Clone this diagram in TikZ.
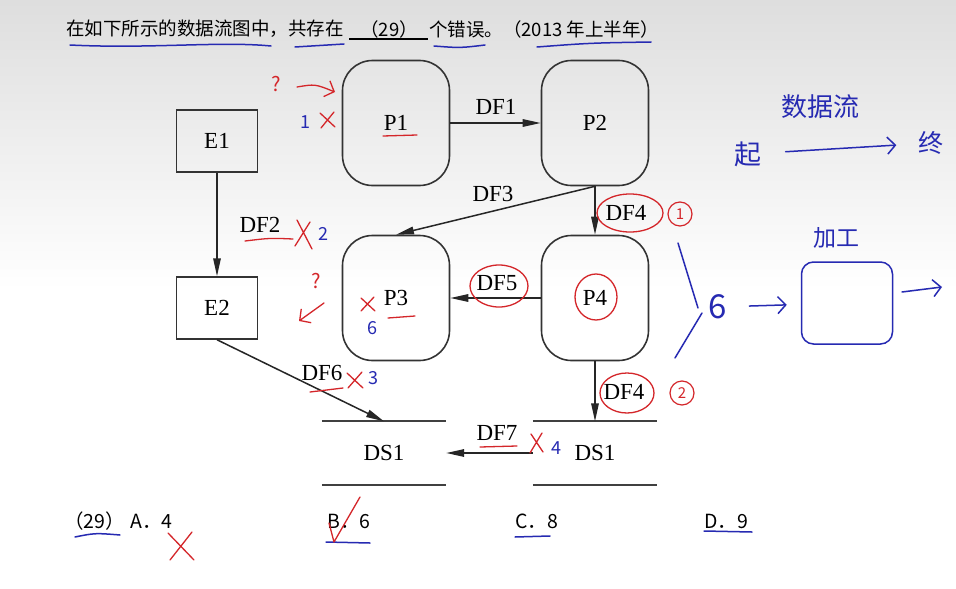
\documentclass[tikz,border=0pt]{standalone}
\usepackage{fontspec}
\setmainfont{Liberation Serif}
\newfontfamily\cjk{Noto Sans CJK SC}
\usetikzlibrary{positioning,arrows.meta,calc,shapes.geometric}
\definecolor{penred}{RGB}{212,38,42}
\definecolor{penblue}{RGB}{38,42,178}
\tikzset{
  proc/.style={draw=black!80,rounded corners=30pt,line width=1.6pt,minimum width=107pt,
    minimum height=125pt,inner sep=0pt,font=\fontsize{23}{27}\selectfont},
  ent/.style={draw=black!80,line width=1.5pt,minimum width=81pt,minimum height=62pt,
    inner sep=0pt,font=\fontsize{23}{27}\selectfont},
  store/.style={minimum width=124pt,minimum height=63pt,inner sep=0pt,
    font=\fontsize{23}{27}\selectfont},
  stline/.style={line width=1.8pt,black!75},
  flow/.style={-{Triangle[length=18pt,width=7.5pt]},line width=1.5pt,black!85},
  flab/.style={font=\fontsize{23}{27}\selectfont,inner sep=0pt},
  qtext/.style={font=\cjk\fontsize{18.5}{22}\selectfont,inner sep=0pt},
  opt/.style={font=\cjk\fontsize{19.5}{23}\selectfont,inner sep=0pt,anchor=west},
  % ---- hand-written marks of the teacher ----
  redpen/.style={penred,line width=1.3pt,line cap=round,line join=round},
  bluepen/.style={penblue,line width=1.5pt,line cap=round,line join=round},
  penhead/.style={-{Straight Barb[length=8pt,width=17pt]}},
  rednum/.style={circle,draw=penred,line width=1.2pt,text=penred,inner sep=0pt,
    minimum size=24pt,font=\cjk\fontsize{15}{18}\selectfont},
  redtxt/.style={text=penred,inner sep=0pt,font=\cjk\fontsize{20}{22}\selectfont},
  bluetxt/.style={text=penblue,inner sep=0pt,font=\cjk\fontsize{18}{22}\selectfont},
}
\begin{document}
\begin{tikzpicture}[x=1pt,y=-1pt]
  \useasboundingbox (0,0) rectangle (956,589);
  \fill[white] (0,0) rectangle (956,589);
  \shade[top color=black!13,bottom color=white] (0,0) rectangle (956,290);

  % question line
  \node[qtext,anchor=west] (q1) at (66,29) {在如下所示的数据流图中，共存在};
  \node[qtext] (q2) at (389,29) {（29）};
  \node[qtext,anchor=west] (q3) at (429,29) {个错误。（2013 年上半年）};
  \draw[line width=1.1pt] (349,39) -- (428,39);

  % data flow diagram
  \node[ent] (e1) at (217,141) {E1};
  \node[ent] (e2) at (217,308) {E2};
  \node[proc] (p1) at (396,123) {P1};
  \node[proc] (p2) at (595,123) {P2};
  \node[proc] (p3) at (396,298) {P3};
  \node[proc] (p4) at (595,298) {P4};
  \node[store] (dsa) at (384,453) {DS1};
  \node[store] (dsb) at (595,453) {DS1};
  \foreach \s in {dsa,dsb}{
    \draw[stline] (\s.north west) -- (\s.north east);
    \draw[stline] (\s.south west) -- (\s.south east);
  }

  \draw[flow] (p1) -- (p2);
  \draw[flow] (p2.south) -- (p3.north);
  \draw[flow] (p2.south) -- (p4.north);
  \draw[flow] (e1) -- (e2);
  \draw[flow] (p4) -- (p3);
  \draw[flow] (e2.south) -- (dsa.north);
  \draw[flow] (p4.south) -- (dsb.north);
  \draw[flow] (dsb.west) -- (dsa.east);

  \node[flab] (l1) at (496,107) {DF1};
  \node[flab] (l3) at (493,194) {DF3};
  \node[flab] (l4) at (626,213) {DF4};
  \node[flab] (l2) at (260,225) {DF2};
  \node[flab] (l5) at (497,283) {DF5};
  \node[flab] (l6) at (322,373) {DF6};
  \node[flab] (l4b) at (624,392) {DF4};
  \node[flab] (l7) at (497,433) {DF7};

  % answers
  \node[opt] (o0) at (64,521) {（29）};
  \node[opt] (oa) at (130,521) {A．4};
  \node[opt] (ob) at (327,521) {B．6};
  \node[opt] (oc) at (515,521) {C．8};
  \node[opt] (od) at (704,521) {D．9};

  % blue underlines
  \draw[bluepen] (70,45) .. controls (150,49) and (220,41) .. (271,46);
  \draw[bluepen] (295,47) -- (344,44);
  \draw[bluepen] (434,46) .. controls (460,48) .. (485,45);
  \draw[bluepen] (537,47) .. controls (590,43) .. (651,42);
  \draw[bluepen] (75,537) .. controls (95,533) .. (120,535);
  \draw[bluepen] (326,542) -- (370,543);
  \draw[bluepen] (515,537) -- (550,536);
  \draw[bluepen] (704,531) -- (752,532);

  % red marks on the diagram
  \node[redtxt] (qa) at (276,84) {?};
  \draw[redpen,penhead] (297,87) .. controls (315,84) .. (335,92);
  \node[bluetxt] (n1) at (305,122) {1};
  \draw[redpen] (320,113) -- (335,127) (334,112) -- (321,128);
  \draw[redpen] (383,136) -- (417,135);
  \draw[redpen] (630,213) ellipse [x radius=33, y radius=19];
  \node[rednum] (c1) at (680,214) {1};
  \draw[redpen] (245,241) .. controls (270,238) .. (293,239);
  \draw[redpen] (297,220) -- (312,249) (310,222) -- (295,246);
  \node[bluetxt] (n2) at (323,234) {2};
  \node[redtxt] (qb) at (316,281) {?};
  \draw[redpen,penhead] (324,303) -- (299,321);
  \draw[redpen] (361,298) -- (375,311) (374,297) -- (361,311);
  \node[bluetxt] (n6) at (372,328) {6};
  \draw[redpen] (388,318) -- (415,316);
  \draw[redpen] (499,286) ellipse [x radius=29, y radius=21];
  \draw[redpen] (596,297) ellipse [x radius=21, y radius=23];
  \draw[redpen] (310,392) -- (343,388);
  \draw[redpen] (347,373) -- (363,388) (362,372) -- (348,388);
  \node[bluetxt] (n3) at (373,378) {3};
  \draw[redpen] (627,393) ellipse [x radius=27, y radius=20];
  \node[rednum] (c2) at (682,393) {2};
  \draw[redpen] (480,447) -- (517,446);
  \draw[redpen] (531,434) -- (543,452) (542,433) -- (530,453);
  \node[bluetxt] (n4) at (556,448) {4};

  % red marks on the answers
  \draw[redpen] (168,533) -- (194,560) (192,532) -- (170,560);
  \draw[redpen] (329,523) -- (334,542) -- (360,497);

  % notes on the right
  \node[text=penblue,inner sep=0pt,font=\cjk\fontsize{26}{30}\selectfont] (sjl) at (820,107) {数据流};
  \node[text=penblue,inner sep=0pt,font=\cjk\fontsize{27}{30}\selectfont] (qi) at (748,154) {起};
  \node[text=penblue,inner sep=0pt,font=\cjk\fontsize{25}{30}\selectfont] (zh) at (931,143) {终};
  \draw[bluepen,penhead,shorten <=24pt,shorten >=22pt] (qi) -- (zh);
  \draw[bluepen] (678,243) -- (698,308);
  \draw[bluepen] (702,313) -- (675,358);
  \node[text=penblue,inner sep=0pt,font=\cjk\fontsize{33}{36}\selectfont] (six) at (718,307) {6};
  \node[text=penblue,inner sep=0pt,font=\cjk\fontsize{23}{26}\selectfont] (jg) at (836,238) {加工};
  \node[draw=penblue,line width=1.5pt,rounded corners=12pt,minimum width=91pt,
    minimum height=82pt] (jgbox) at (847,303) {};
  \draw[bluepen,penhead,shorten <=22pt,shorten >=14pt] (six) -- (jgbox);
  \coordinate (out) at (942,287);
  \draw[bluepen,penhead] (902,292) -- (out);
\end{tikzpicture}
\end{document}
